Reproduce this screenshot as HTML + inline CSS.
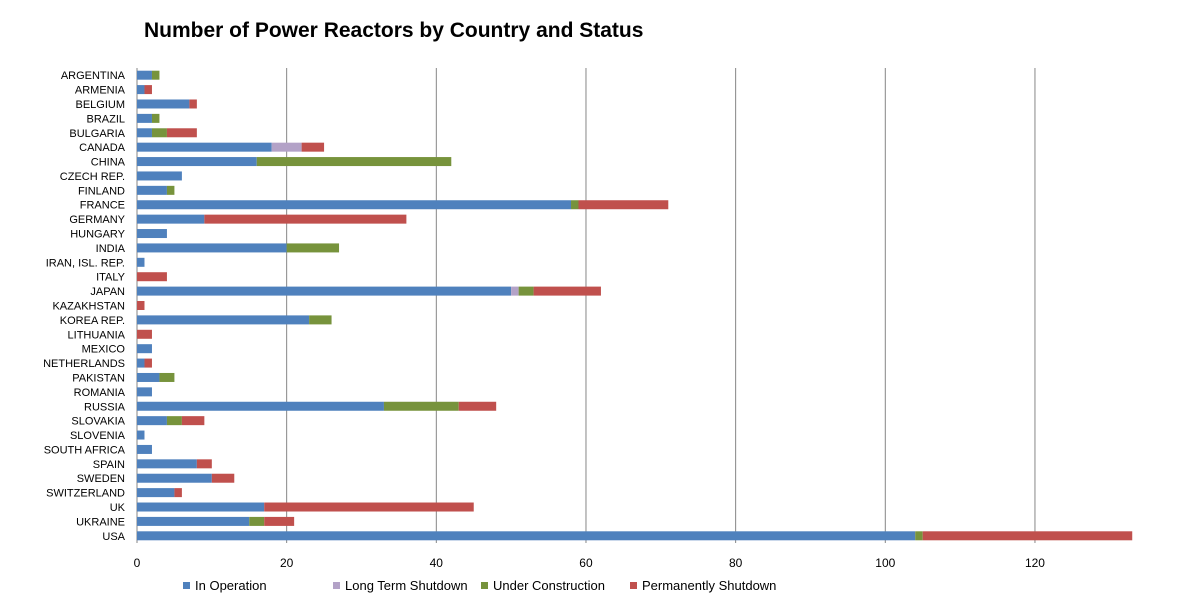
<!DOCTYPE html>
<html><head><meta charset="utf-8"><style>
body{margin:0;background:#fff;font-family:"Liberation Sans",sans-serif}
</style></head><body>
<svg width="1198" height="607" xmlns="http://www.w3.org/2000/svg">
<text x="144" y="37" font-family="Liberation Sans, sans-serif" font-size="21" font-weight="bold" fill="#000">Number of Power Reactors by Country and Status</text>
<g id="grid"></g><g id="bars"></g><g id="labels"></g><g id="legend"></g>
</svg>
<script>
const countries=["ARGENTINA","ARMENIA","BELGIUM","BRAZIL","BULGARIA","CANADA","CHINA","CZECH REP.","FINLAND","FRANCE","GERMANY","HUNGARY","INDIA","IRAN, ISL. REP.","ITALY","JAPAN","KAZAKHSTAN","KOREA REP.","LITHUANIA","MEXICO","NETHERLANDS","PAKISTAN","ROMANIA","RUSSIA","SLOVAKIA","SLOVENIA","SOUTH AFRICA","SPAIN","SWEDEN","SWITZERLAND","UK","UKRAINE","USA"];
const inOperation=[2,1,7,2,2,18,16,6,4,58,9,4,20,1,0,50,0,23,0,2,1,3,2,33,4,1,2,8,10,5,17,15,104];
const longTermShutdown=[0,0,0,0,0,4,0,0,0,0,0,0,0,0,0,1,0,0,0,0,0,0,0,0,0,0,0,0,0,0,0,0,0];
const underConstruction=[1,0,0,1,2,0,26,0,1,1,0,0,7,0,0,2,0,3,0,0,0,2,0,10,2,0,0,0,0,0,0,2,1];
const permanentlyShutdown=[0,1,1,0,4,3,0,0,0,12,27,0,0,0,4,9,1,0,2,0,1,0,0,5,3,0,0,2,3,1,28,4,28];
const ticks=[0,20,40,60,80,100,120];
const seriesNames=["In Operation","Long Term Shutdown","Under Construction","Permanently Shutdown"];
const colors=["#4f81bd","#b3a2c7","#77933c","#c0504d"];
const NS="http://www.w3.org/2000/svg";
const x0=137,scale=7.483,yTop=68,yBot=543;
const X=v=>x0+v*scale;
const rowH=(yBot-yTop)/countries.length;
const Y=i=>yTop+rowH*(i+0.5);
function mk(tag,attrs,parent){const e=document.createElementNS(NS,tag);for(const k in attrs)e.setAttribute(k,attrs[k]);document.getElementById(parent).appendChild(e);return e;}
ticks.forEach(t=>{
 if(t>0){const l=mk("line",{x1:X(t),x2:X(t),y1:yTop,y2:yBot,stroke:"#868686","stroke-width":1},"grid");
 
 }
 const tx=mk("text",{x:X(t),y:567,"text-anchor":"middle","font-size":"12",fill:"#000"},"labels");
 tx.textContent=t;
 
 
});
const ax=mk("line",{x1:x0,x2:x0,y1:yTop,y2:yBot,stroke:"#868686","stroke-width":1},"grid");


const series=[inOperation,longTermShutdown,underConstruction,permanentlyShutdown];
countries.forEach((c,i)=>{
 let acc=0;
 series.forEach((s,k)=>{
  if(s[i]>0){const r=mk("rect",{x:X(acc),y:Y(i)-4.5,width:s[i]*scale,height:9,fill:colors[k]},"bars");
  
  }
  acc+=s[i];
 });
 const t=mk("text",{x:125,y:Y(i)+4,"text-anchor":"end","font-size":"11",fill:"#000"},"labels");
 t.textContent=c;
 
 
});
const lx=[183,333,481,630];
seriesNames.forEach((n,k)=>{
 const r=mk("rect",{x:lx[k],y:582,width:7,height:7,fill:colors[k]},"legend");
 
 
 const t=mk("text",{x:lx[k]+12,y:590,"font-size":"13",fill:"#000"},"legend");
 t.textContent=n;
 
 
});
</script>
</body></html>
